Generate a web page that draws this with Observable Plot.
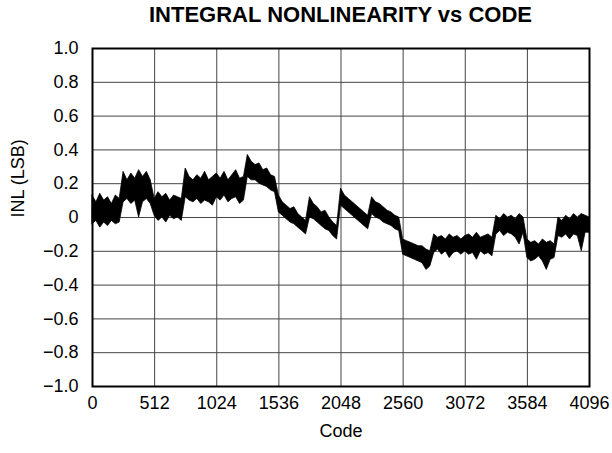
<!DOCTYPE html>
<html>
<head>
<meta charset="utf-8">
<script src="https://cdn.jsdelivr.net/npm/d3@7"></script>
<script src="https://cdn.jsdelivr.net/npm/@observablehq/plot@0.6"></script>
<style>
  html, body { margin: 0; padding: 0; background: #fff; }
  #title { height: 34px; line-height: 34px; padding-top: 2px; padding-left: 92px; width: 497px; text-align: center;
           font: bold 22px "Liberation Sans", Arial, sans-serif; color: #000; white-space: nowrap; }
</style>
</head>
<body>
<div id="title">INTEGRAL NONLINEARITY vs CODE</div>
<div id="chart"></div>
<script>
// Code sample points (every 32 codes)
const codes = d3.range(0, 4097, 32);
// Upper edge of the noisy INL trace (LSB)
const inlHigh = [
  0.13, 0.09, 0.14, 0.10, 0.12, 0.08, 0.13, 0.11,
  0.27, 0.22, 0.26, 0.23, 0.28, 0.24, 0.27, 0.22,
  0.11, 0.15, 0.12, 0.14, 0.10, 0.13, 0.12, 0.11,
  0.29, 0.24, 0.22, 0.25, 0.23, 0.27, 0.22, 0.24,
  0.26, 0.23, 0.27, 0.22, 0.25, 0.28, 0.23, 0.24,
  0.37, 0.33, 0.31, 0.32, 0.28, 0.29, 0.25, 0.24,
  0.13, 0.09, 0.07, 0.05, 0.06, 0.02, 0.00, -0.02,
  0.12, 0.08, 0.06, 0.03, 0.04, 0.00, -0.03, -0.05,
  0.17, 0.13, 0.11, 0.09, 0.07, 0.05, 0.03, 0.01,
  0.12, 0.09, 0.08, 0.06, 0.04, 0.03, 0.01, 0.00,
  -0.13, -0.14, -0.15, -0.16, -0.17, -0.17, -0.19, -0.20,
  -0.10, -0.12, -0.11, -0.13, -0.10, -0.12, -0.11, -0.13,
  -0.11, -0.10, -0.12, -0.09, -0.12, -0.11, -0.10, -0.12,
  0.01, -0.01, 0.02, 0.00, 0.01, -0.01, 0.02, 0.00,
  -0.13, -0.15, -0.14, -0.16, -0.13, -0.15, -0.14, -0.16,
  0.00, -0.02, 0.01, -0.01, 0.02, 0.00, 0.02, 0.01,
  0.00
];
// Lower edge of the noisy INL trace (LSB)
const inlLow = [
  -0.04, -0.02, -0.06, -0.03, -0.05, -0.02, -0.04, -0.03,
  0.09, 0.11, 0.08, 0.10, 0.00, 0.09, 0.11, 0.08,
  0.01, -0.02, 0.00, -0.03, 0.01, -0.01, 0.00, -0.02,
  0.12, 0.10, 0.09, 0.11, 0.08, 0.10, 0.09, 0.07,
  0.12, 0.10, 0.13, 0.09, 0.11, 0.12, 0.08, 0.10,
  0.24, 0.22, 0.22, 0.20, 0.19, 0.18, 0.16, 0.15,
  0.03, 0.01, -0.01, -0.03, -0.04, -0.06, -0.08, -0.10,
  0.00, -0.01, -0.03, -0.05, -0.07, -0.08, -0.11, -0.13,
  0.07, 0.05, 0.03, 0.01, -0.01, -0.03, -0.05, -0.07,
  0.02, 0.00, -0.01, -0.03, -0.04, -0.05, -0.07, -0.08,
  -0.22, -0.23, -0.24, -0.25, -0.26, -0.27, -0.31, -0.29,
  -0.21, -0.19, -0.22, -0.20, -0.24, -0.21, -0.20, -0.22,
  -0.20, -0.22, -0.21, -0.25, -0.20, -0.22, -0.21, -0.23,
  -0.10, -0.08, -0.11, -0.09, -0.10, -0.12, -0.16, -0.09,
  -0.24, -0.26, -0.25, -0.23, -0.26, -0.31, -0.25, -0.24,
  -0.11, -0.12, -0.10, -0.13, -0.10, -0.11, -0.20, -0.09,
  -0.09
];
const xTicks = [0, 512, 1024, 1536, 2048, 2560, 3072, 3584, 4096];
const yTicks = [-1.0, -0.8, -0.6, -0.4, -0.2, 0, 0.2, 0.4, 0.6, 0.8, 1.0];

const data = codes.map((c, i) => ({code: c, hi: inlHigh[i], lo: inlLow[i]}));
const fmtY = d => d === 0 ? "0" : d3.format(".1f")(d);
const fmtX = d => String(d);

const chart = Plot.plot({
  width: 612,
  height: 417,
  marginTop: 12,
  marginBottom: 67,
  marginLeft: 92,
  marginRight: 23,
  style: {fontFamily: "'Liberation Sans', Arial, sans-serif", fontSize: "18px", color: "#000", background: "#fff", overflow: "visible"},
  x: {domain: [0, 4096], ticks: xTicks},
  y: {domain: [-1, 1], ticks: yTicks},
  marks: [
    Plot.gridX(xTicks, {stroke: "#444", strokeOpacity: 1, strokeWidth: 1}),
    Plot.gridY(yTicks, {stroke: "#444", strokeOpacity: 1, strokeWidth: 1}),
    Plot.areaY(data, {x: "code", y1: "lo", y2: "hi", fill: "#000", stroke: "#000", strokeWidth: 0.8, curve: "linear"}),
    Plot.frame({stroke: "#000", strokeWidth: 2}),
    Plot.axisX(xTicks, {tickSize: 0, tickPadding: 10, label: null, tickFormat: fmtX, fontSize: 18}),
    Plot.axisY(yTicks, {tickSize: 0, tickPadding: 14, label: null, tickFormat: fmtY, fontSize: 18}),
    Plot.text(["Code"], {frameAnchor: "bottom", dy: 50, fontSize: 18}),
    Plot.text(["INL (LSB)"], {frameAnchor: "left", dx: -74, rotate: -90, fontSize: 18})
  ]
});
document.getElementById("chart").appendChild(chart);
</script>
</body>
</html>
